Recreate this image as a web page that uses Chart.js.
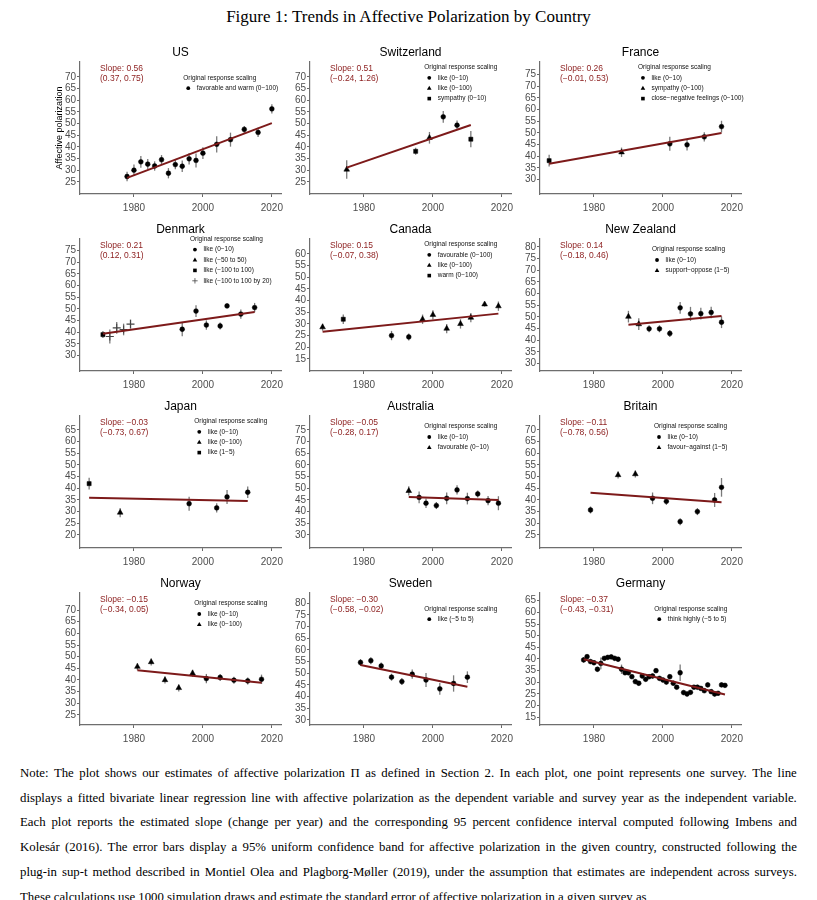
<!DOCTYPE html>
<html><head><meta charset="utf-8"><title>Figure 1</title>
<script src="https://cdn.jsdelivr.net/npm/chart.js@4.4.1/dist/chart.umd.min.js"></script>
<style>
html,body{margin:0;padding:0;background:#fff}
body{position:relative;width:817px;height:900px;overflow:hidden}
#figtitle{position:absolute;left:0;top:6px;width:817px;text-align:center;font-family:"Liberation Serif","Times New Roman",serif;font-size:17px;line-height:22px;color:#000}
.nl{position:absolute;left:20px;width:777px;display:flex;justify-content:space-between;font-family:"Liberation Serif","Times New Roman",serif;line-height:18px;color:#000;white-space:nowrap}
.nl.last{display:block}
canvas{position:absolute}
</style></head><body>
<div id="figtitle">Figure 1: Trends in Affective Polarization by Country</div>
<script>
// ---------- shared axis data ----------
const xTicks = [1980, 2000, 2020];
const xRange = [1964.35, 2022.65];
const legendTitle = 'Original response scaling';

// ---------- US ----------
const usYears  = [1978,1980,1982,1984,1986,1988,1990,1992,1994,1996,1998,2000,2004,2008,2012,2016,2020];
const usValues = [27.3,30.0,33.6,32.6,31.8,34.5,28.7,32.4,31.7,34.9,34.2,37.3,41.1,43.1,47.5,46.2,56.3];
const usErrors = [2,2.5,2.5,2.2,2,2,2.2,2,2.5,2.5,3,2.5,3.5,3,1.5,2,2];
const usShapes = ['c','c','c','c','c','c','c','c','c','c','c','c','c','c','c','c','c'];
const usFit = [1978, 26.7, 2020, 50.2];
const usYRange = [19.8, 76.4];
const usYTicks = [25,30,35,40,45,50,55,60,65,70];
const usLegend = ['favorable and warm (0\u2212100)'];
const usSlope = ['Slope: 0.56', '(0.37, 0.75)'];

// ---------- Switzerland ----------
const chYears  = [1975,1995,1999,2003,2007,2011];
const chValues = [30.3,38.1,43.9,52.9,49.3,43.3];
const chErrors = [4,1.5,2.5,2.5,2,3.5];
const chShapes = ['t','s','t','c','c','s'];
const chFit = [1975, 31.1, 2011, 49.4];
const chYRange = [19.8, 76.4];
const chYTicks = [25,30,35,40,45,50,55,60,65,70];
const chLegend = ['like (0\u221210)','like (0\u2212100)','sympathy (0\u221210)'];
const chSlope = ['Slope: 0.51', '(\u22120.24, 1.26)'];

// ---------- France ----------
const frYears  = [1967,1988,2002,2007,2012,2017];
const frValues = [38.1,41.7,45.3,44.9,48.3,52.7];
const frErrors = [2.5,2,3,2.5,2,2.5];
const frShapes = ['s','t','c','c','c','c'];
const frFit = [1967, 36.8, 2017, 50.0];
const frYRange = [23.8, 80.4];
const frYTicks = [30,35,40,45,50,55,60,65,70,75];
const frLegend = ['like (0\u221210)','sympathy (0\u2212100)','close\u2212negative feelings (0\u2212100)'];
const frSlope = ['Slope: 0.26', '(\u22120.01, 0.53)'];

// ---------- Denmark ----------
const dkYears  = [1971,1973,1975,1977,1979,1994,1998,2001,2005,2007,2011,2015];
const dkValues = [39.0,38.2,41.9,41.2,43.5,41.3,49.1,43.1,42.7,51.3,47.8,50.6];
const dkErrors = [1.5,3,2.5,2.5,2,3,2.5,2,1.5,1,2,2];
const dkShapes = ['s','p','p','p','p','c','c','c','c','c','c','c'];
const dkFit = [1971, 39.4, 2015, 48.7];
const dkYRange = [23.4, 80.0];
const dkYTicks = [30,35,40,45,50,55,60,65,70,75];
const dkLegend = ['like (0\u221210)','like (\u221250 to 50)','like (\u2212100 to 100)','like (\u2212100 to 100 by 20)'];
const dkSlope = ['Slope: 0.21', '(0.12, 0.31)'];

// ---------- Canada ----------
const caYears  = [1968,1974,1988,1993,1997,2000,2004,2008,2011,2015,2019];
const caValues = [28.6,32.0,25.0,24.4,32.0,33.9,28.0,30.0,32.7,38.4,37.6];
const caErrors = [1.5,2,2,1.5,2,2,2,2,2,1,2];
const caShapes = ['t','s','c','c','t','t','t','t','t','t','t'];
const caFit = [1968, 26.6, 2019, 34.4];
const caYRange = [9.8, 66.4];
const caYTicks = [15,20,25,30,35,40,45,50,55,60];
const caLegend = ['favourable (0\u2212100)','like (0\u2212100)','warm (0\u2212100)'];
const caSlope = ['Slope: 0.15', '(\u22120.07, 0.38)'];

// ---------- New Zealand ----------
const nzYears  = [1990,1993,1996,1999,2002,2005,2008,2011,2014,2017];
const nzValues = [50.1,46.9,44.9,44.9,42.9,53.9,51.3,51.4,51.9,47.7];
const nzErrors = [2.5,2.5,1.5,1.5,1.5,2.5,3,2.5,2.5,2.5];
const nzShapes = ['t','t','c','c','c','c','c','c','c','c'];
const nzFit = [1990, 46.6, 2017, 50.4];
const nzYRange = [26.8, 83.4];
const nzYTicks = [30,35,40,45,50,55,60,65,70,75,80];
const nzLegend = ['like (0\u221210)','support\u2212oppose (1\u22125)'];
const nzSlope = ['Slope: 0.14', '(\u22120.18, 0.46)'];

// ---------- Japan ----------
const jpYears  = [1967,1976,1996,2004,2007,2013];
const jpValues = [42.0,29.6,33.4,31.6,36.3,38.3];
const jpErrors = [2.5,2,3,2,3,2.5];
const jpShapes = ['s','t','c','c','c','c'];
const jpFit = [1967, 36.0, 2013, 34.6];
const jpYRange = [14.4, 71.0];
const jpYTicks = [20,25,30,35,40,45,50,55,60,65];
const jpLegend = ['like (0\u221210)','like (0\u2212100)','like (1\u22125)'];
const jpSlope = ['Slope: \u22120.03', '(\u22120.73, 0.67)'];

// ---------- Australia ----------
const auYears  = [1993,1996,1998,2001,2004,2007,2010,2013,2016,2019];
const auValues = [48.9,46.1,43.6,42.6,45.7,49.3,45.6,47.6,44.7,43.6];
const auErrors = [2,2.5,2,1.5,2.5,2,2.5,1.5,2,3];
const auShapes = ['t','c','c','c','c','c','c','c','c','c'];
const auFit = [1993, 46.3, 2019, 45.0];
const auYRange = [24.4, 81.0];
const auYTicks = [30,35,40,45,50,55,60,65,70,75];
const auLegend = ['like (0\u221210)','favourable (0\u221210)'];
const auSlope = ['Slope: \u22120.05', '(\u22120.28, 0.17)'];

// ---------- Britain ----------
const gbYears  = [1979,1987,1992,1997,2001,2005,2010,2015,2017];
const gbValues = [35.7,50.7,51.1,40.7,39.4,30.7,35.0,40.0,45.4];
const gbErrors = [1.5,1.5,1.5,2.5,1.5,1.5,1.5,3,4];
const gbShapes = ['c','t','t','c','c','c','c','c','c'];
const gbFit = [1979, 43.1, 2017, 39.0];
const gbYRange = [19.4, 76.0];
const gbYTicks = [25,30,35,40,45,50,55,60,65,70];
const gbLegend = ['like (0\u221210)','favour\u2212against (1\u22125)'];
const gbSlope = ['Slope: \u22120.11', '(\u22120.78, 0.56)'];

// ---------- Norway ----------
const noYears  = [1981,1985,1989,1993,1997,2001,2005,2009,2013,2017];
const noValues = [45.7,47.7,40.0,36.6,42.9,40.6,41.1,39.9,39.6,40.3];
const noErrors = [1.5,1.5,1.5,1.5,1.5,2,1.5,1.5,1.5,2];
const noShapes = ['t','t','t','t','t','c','c','c','c','c'];
const noFit = [1981, 44.2, 2017, 38.8];
const noYRange = [20.7, 77.3];
const noYTicks = [25,30,35,40,45,50,55,60,65,70];
const noLegend = ['like (0\u221210)','like (0\u2212100)'];
const noSlope = ['Slope: \u22120.15', '(\u22120.34, 0.05)'];

// ---------- Sweden ----------
const seYears  = [1979,1982,1985,1988,1991,1994,1998,2002,2006,2010];
const seValues = [54.6,55.4,53.1,48.3,46.4,49.6,47.1,43.3,45.6,48.3];
const seErrors = [1.5,1.5,1.5,1.5,1.5,2,3,2.5,3.5,2.5];
const seShapes = ['c','c','c','c','c','c','c','c','c','c'];
const seFit = [1979, 53.5, 2010, 44.2];
const seYRange = [27.8, 84.4];
const seYTicks = [30,35,40,45,50,55,60,65,70,75,80];
const seLegend = ['like (\u22125 to 5)'];
const seSlope = ['Slope: \u22120.30', '(\u22120.58, \u22120.02)'];

// ---------- Germany ----------
const deYears  = [1977,1978,1979,1980,1981,1982,1983,1984,1985,1986,1987,1988,1989,1990,1991,1992,1993,1994,1995,1996,1997,1998,1999,2000,2001,2002,2003,2004,2005,2006,2007,2008,2009,2010,2011,2012,2013,2014,2015,2016,2017,2018];
const deValues = [39.6,41.0,38.9,38.4,35.6,38.1,40.3,40.7,40.9,40.3,39.9,35.6,34.1,34.1,32.4,30.3,29.6,32.7,31.3,32.4,32.7,35.0,31.7,31.0,30.1,32.4,29.6,27.9,34.1,25.6,25.0,25.7,27.9,27.9,27.4,26.4,28.9,26.0,25.0,25.3,28.9,28.7];
const deErrors = [1.2,1,1,1,1,2.5,1,1,1,1,1,2,1,1,1,1,1,1,1,1,1,1,1,1,1,1,1,1,3.5,1,1,1,1,1,1,1,1,1,1,1,1,1];
const deShapes = deYears.map(() => 'c');
const deFit = [1977, 39.9, 2018, 24.8];
const deYRange = [11.7, 68.3];
const deYTicks = [15,20,25,30,35,40,45,50,55,60,65];
const deLegend = ['think highly (\u22125 to 5)'];
const deSlope = ['Slope: \u22120.37', '(\u22120.43, \u22120.31)'];

// ---------- note ----------
const noteLines = [
 "Note: The plot shows our estimates of affective polarization \u03A0 as defined in Section 2. In each plot, one point represents one survey. The line",
 "displays a fitted bivariate linear regression line with affective polarization as the dependent variable and survey year as the independent variable.",
 "Each plot reports the estimated slope (change per year) and the corresponding 95 percent confidence interval computed following Imbens and",
 "Kolesár (2016). The error bars display a 95% uniform confidence band for affective polarization in the given country, constructed following the",
 "plug-in sup-t method described in Montiel Olea and Plagborg-Møller (2019), under the assumption that estimates are independent across surveys.",
 "These calculations use 1000 simulation draws and estimate the standard error of affective polarization in a given survey as"
];

// ---------- layout ----------
const COLS = [80, 310, 540];
const ROWS = [62, 239, 416, 593];
const PW = 201, PH = 132;
const ML = 45, MT = 24, MR = 14, MB = 24;
const FONT = '"Liberation Sans", Arial, Helvetica, sans-serif';

const panels = [
 {title:'US', years:usYears, values:usValues, errors:usErrors, shapes:usShapes, fit:usFit, yr:usYRange, yt:usYTicks, legend:usLegend, slope:usSlope, ylab:'Affective polarization'},
 {title:'Switzerland', years:chYears, values:chValues, errors:chErrors, shapes:chShapes, fit:chFit, yr:chYRange, yt:chYTicks, legend:chLegend, slope:chSlope},
 {title:'France', years:frYears, values:frValues, errors:frErrors, shapes:frShapes, fit:frFit, yr:frYRange, yt:frYTicks, legend:frLegend, slope:frSlope},
 {title:'Denmark', years:dkYears, values:dkValues, errors:dkErrors, shapes:dkShapes, fit:dkFit, yr:dkYRange, yt:dkYTicks, legend:dkLegend, slope:dkSlope},
 {title:'Canada', years:caYears, values:caValues, errors:caErrors, shapes:caShapes, fit:caFit, yr:caYRange, yt:caYTicks, legend:caLegend, slope:caSlope},
 {title:'New Zealand', years:nzYears, values:nzValues, errors:nzErrors, shapes:nzShapes, fit:nzFit, yr:nzYRange, yt:nzYTicks, legend:nzLegend, slope:nzSlope},
 {title:'Japan', years:jpYears, values:jpValues, errors:jpErrors, shapes:jpShapes, fit:jpFit, yr:jpYRange, yt:jpYTicks, legend:jpLegend, slope:jpSlope},
 {title:'Australia', years:auYears, values:auValues, errors:auErrors, shapes:auShapes, fit:auFit, yr:auYRange, yt:auYTicks, legend:auLegend, slope:auSlope},
 {title:'Britain', years:gbYears, values:gbValues, errors:gbErrors, shapes:gbShapes, fit:gbFit, yr:gbYRange, yt:gbYTicks, legend:gbLegend, slope:gbSlope},
 {title:'Norway', years:noYears, values:noValues, errors:noErrors, shapes:noShapes, fit:noFit, yr:noYRange, yt:noYTicks, legend:noLegend, slope:noSlope},
 {title:'Sweden', years:seYears, values:seValues, errors:seErrors, shapes:seShapes, fit:seFit, yr:seYRange, yt:seYTicks, legend:seLegend, slope:seSlope},
 {title:'Germany', years:deYears, values:deValues, errors:deErrors, shapes:deShapes, fit:deFit, yr:deYRange, yt:deYTicks, legend:deLegend, slope:deSlope}
];

const SHAPE = {c:'circle', t:'triangle', s:'rect', p:'cross'};
const RAD = {c:2.4, t:3.3, s:2.9, p:4};
const LEG_SHAPES = ['c','t','s','p'];

function drawMarker(ctx, s, x, y) {
  ctx.save();
  ctx.fillStyle = '#000';
  ctx.beginPath();
  if (s === 'c') { ctx.arc(x, y, 1.9, 0, Math.PI * 2); ctx.fill(); }
  else if (s === 't') { ctx.moveTo(x, y - 2.5); ctx.lineTo(x + 2.3, y + 1.6); ctx.lineTo(x - 2.3, y + 1.6); ctx.closePath(); ctx.fill(); }
  else if (s === 's') { ctx.fillRect(x - 1.8, y - 1.8, 3.6, 3.6); }
  else { ctx.strokeStyle = '#444'; ctx.lineWidth = 0.8; ctx.moveTo(x - 2.7, y); ctx.lineTo(x + 2.7, y); ctx.moveTo(x, y - 2.7); ctx.lineTo(x, y + 2.7); ctx.stroke(); }
  ctx.restore();
}

const errorBars = {
  id: 'errorBars',
  beforeDatasetsDraw(chart) {
    const ds = chart.data.datasets[1];
    const xs = chart.scales.x, ys = chart.scales.y, ctx = chart.ctx;
    ctx.save();
    ctx.strokeStyle = '#7a7a7a';
    ctx.lineWidth = 1.3;
    ds.data.forEach(p => {
      const x = xs.getPixelForValue(p.x);
      ctx.beginPath();
      ctx.moveTo(x, ys.getPixelForValue(p.y - p.e));
      ctx.lineTo(x, ys.getPixelForValue(p.y + p.e));
      ctx.stroke();
    });
    ctx.restore();
  }
};

const annot = {
  id: 'annot',
  afterDraw(chart) {
    const o = chart.options.plugins.annot;
    const a = chart.chartArea, ctx = chart.ctx;
    ctx.save();
    ctx.textBaseline = 'middle';
    // panel title
    ctx.fillStyle = '#000';
    ctx.font = '12px ' + FONT;
    ctx.textAlign = 'center';
    ctx.fillText(o.title, (a.left + a.right) / 2, a.top - 9.5);
    // slope annotation
    ctx.fillStyle = '#8b1c1c';
    ctx.font = '8.5px ' + FONT;
    ctx.textAlign = 'left';
    ctx.fillText(o.slope[0], a.left + 20, a.top + 6.5);
    ctx.fillText(o.slope[1], a.left + 20, a.top + 17);
    // legend
    ctx.font = '6.5px ' + FONT;
    let w = ctx.measureText(legendTitle).width;
    o.legend.forEach(t => { w = Math.max(w, 13.5 + ctx.measureText(t).width); });
    const bx = a.left + (a.right - a.left) * 0.75 - w / 2;
    const n = o.legend.length + 1, ls = 10.4;
    const y0 = a.top + 21 - (n - 1) * ls / 2;
    ctx.fillStyle = '#111';
    ctx.fillText(legendTitle, bx, y0);
    o.legend.forEach((t, i) => {
      const y = y0 + (i + 1) * ls;
      drawMarker(ctx, LEG_SHAPES[i], bx + 5, y);
      ctx.fillStyle = '#111';
      ctx.font = '6.5px ' + FONT;
      ctx.textBaseline = 'middle';
      ctx.textAlign = 'left';
      ctx.fillText(t, bx + 13.5, y);
    });
    // y-axis title
    if (o.ylab) {
      ctx.save();
      ctx.translate(a.left - 20, (a.top + a.bottom) / 2);
      ctx.rotate(-Math.PI / 2);
      ctx.font = '9px ' + FONT;
      ctx.fillStyle = '#000';
      ctx.textAlign = 'center';
      ctx.fillText(o.ylab, 0, 0);
      ctx.restore();
    }
    ctx.restore();
  }
};

Chart.defaults.font.family = FONT;

panels.forEach((p, idx) => {
  const col = idx % 3, row = Math.floor(idx / 3);
  const W = ML + PW + MR, H = MT + PH + MB;
  const c = document.createElement('canvas');
  c.width = W; c.height = H;
  c.style.left = (COLS[col] - ML) + 'px';
  c.style.top = (ROWS[row] - MT) + 'px';
  c.style.width = W + 'px';
  c.style.height = H + 'px';
  document.body.appendChild(c);
  new Chart(c, {
    type: 'scatter',
    data: {
      datasets: [
        { type: 'line', data: [{x: p.fit[0], y: p.fit[1]}, {x: p.fit[2], y: p.fit[3]}],
          borderColor: '#7d1a1a', borderWidth: 2, pointRadius: 0, fill: false, tension: 0 },
        { type: 'scatter', data: p.years.map((x, i) => ({x: x, y: p.values[i], e: p.errors[i]})),
          pointStyle: p.shapes.map(s => SHAPE[s]), pointRadius: p.shapes.map(s => RAD[s]),
          backgroundColor: '#000', borderColor: p.shapes.map(s => s === 'p' ? '#444' : '#000'),
          borderWidth: p.shapes.map(s => s === 'p' ? 1.1 : 0.5) }
      ]
    },
    options: {
      responsive: false, animation: false, events: [],
      layout: { padding: { top: MT, right: MR, left: 0, bottom: 0 } },
      plugins: { legend: { display: false }, tooltip: { enabled: false },
        annot: { title: p.title, slope: p.slope, legend: p.legend, ylab: p.ylab } },
      scales: {
        x: { type: 'linear', min: xRange[0], max: xRange[1],
          afterFit: s => { s.height = MB; },
          afterBuildTicks: s => { s.ticks = xTicks.map(v => ({value: v})); },
          ticks: { callback: v => String(v), font: { size: 10 }, color: '#4d4d4d', padding: 5, maxRotation: 0, autoSkip: false },
          grid: { display: true, drawOnChartArea: false, drawTicks: true, tickLength: 3, color: '#666', lineWidth: 1 },
          border: { display: true, color: '#6e6e6e', width: 1.2 } },
        y: { type: 'linear', min: p.yr[0], max: p.yr[1],
          afterFit: s => { s.width = ML; },
          afterBuildTicks: s => { s.ticks = p.yt.map(v => ({value: v})); },
          ticks: { callback: v => String(v), font: { size: 10 }, color: '#4d4d4d', padding: 1, autoSkip: false },
          grid: { display: true, drawOnChartArea: false, drawTicks: true, tickLength: 3, color: '#666', lineWidth: 1 },
          border: { display: true, color: '#6e6e6e', width: 1.2 } }
      }
    },
    plugins: [errorBars, annot]
  });
});

// ---------- note text ----------
(function () {
  const cv = document.createElement('canvas').getContext('2d');
  cv.font = '100px "Liberation Serif"';
  let maxW = 0;
  noteLines.slice(0, 5).forEach(l => { maxW = Math.max(maxW, cv.measureText(l).width / 100); });
  const fs = Math.min(12.8, 772 / maxW);
  noteLines.forEach((l, i) => {
    const d = document.createElement('div');
    d.className = 'nl' + (i === noteLines.length - 1 ? ' last' : '');
    d.style.fontSize = fs + 'px';
    d.style.top = (773 + i * 24.7 - 9) + 'px';
    if (i === noteLines.length - 1) { d.textContent = l; }
    else { l.split(' ').forEach(wd => { const s = document.createElement('span'); s.textContent = wd; d.appendChild(s); }); }
    document.body.appendChild(d);
  });
})();
</script></body></html>
